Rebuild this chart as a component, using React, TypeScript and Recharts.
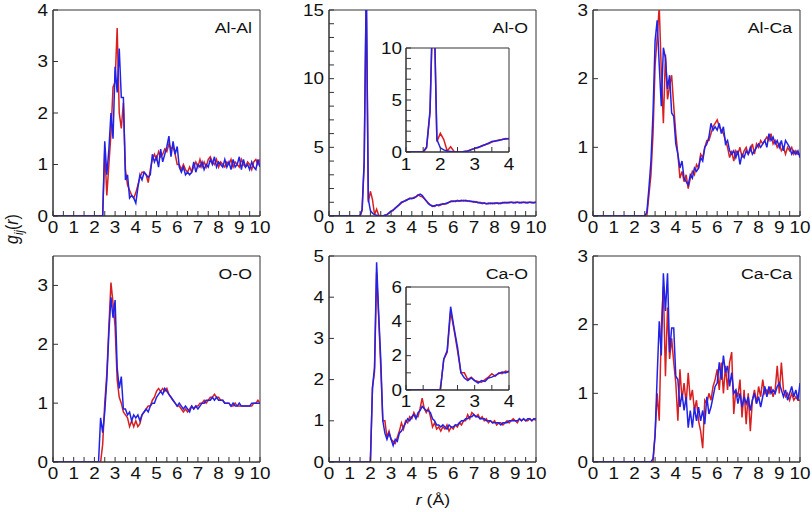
import React from 'react';
import { LineChart, Line, XAxis, YAxis, ReferenceArea } from 'recharts';

// ---------- data (g_ij(r) on r = 0.0, 0.1, ... 10.0 Å) ----------
const rValues = Array.from({ length: 101 }, (_, i) => i / 10);

const alAlRed = [
  0, 0, 0, 0, 0, 0, 0, 0, 0, 0,
  0, 0, 0, 0, 0, 0, 0, 0, 0, 0,
  0, 0, 0, 0, 0, 1.3, 0.4, 1.0, 1.6, 2.5,
  2.6, 3.65, 2.0, 1.7, 2.2, 0.9, 0.6, 0.5, 0.4, 0.35,
  0.45, 0.6, 0.75, 0.85, 0.85, 0.8, 0.65, 0.9, 1.1, 1.2,
  1.1, 1.25, 1.15, 1.2, 1.3, 1.25, 1.4, 1.3, 1.35, 1.2,
  1.0, 1.0, 0.9, 1.0, 0.9, 0.85, 0.95, 0.85, 0.95, 1.05,
  0.95, 1.1, 0.95, 1.05, 0.95, 1.1, 1.15, 1.05, 1.0, 1.1,
  0.95, 1.05, 1.0, 0.95, 1.05, 1.0, 1.1, 0.95, 1.05, 1.0,
  0.95, 1.1, 1.0, 0.95, 1.05, 1.0, 0.9, 1.05, 1.1, 1.0,
  1.1,
];
const alAlBlue = [
  0, 0, 0, 0, 0, 0, 0, 0, 0, 0,
  0, 0, 0, 0, 0, 0, 0, 0, 0, 0,
  0, 0, 0, 0, 0, 1.45, 0.8, 1.3, 2.0, 1.5,
  2.9, 2.4, 3.25, 2.3, 2.3, 0.7, 0.8, 0.35, 0.4, 0.35,
  0.25, 0.55, 0.8, 0.7, 0.85, 0.8, 0.75, 0.8, 1.2, 1.05,
  1.15, 0.95, 1.3, 1.05, 1.2, 1.35, 1.55, 1.15, 1.45, 1.2,
  1.35, 0.95, 0.85, 0.95, 0.8, 0.85, 0.8, 0.85, 1.05, 0.85,
  1.0, 0.95, 1.05, 0.9, 1.0, 0.95, 1.1, 1.0, 1.15, 0.95,
  1.05, 1.0, 0.95, 1.1, 0.95, 1.05, 0.9, 1.1, 0.95, 1.0,
  1.15, 0.9, 1.1, 0.95, 1.0, 0.9, 1.05, 0.95, 0.9, 1.1,
  0.95,
];

const alORed = [
  0, 0, 0, 0, 0, 0, 0, 0, 0, 0,
  0, 0, 0, 0, 0, 0, 0.4, 3.8, 16.5, 1.0,
  1.8, 1.2, 0.1, 0.5, 0.05, 0, 0, 0.05, 0.1, 0.25,
  0.35, 0.4, 0.6, 0.7, 0.8, 0.95, 1.05, 1.15, 1.2, 1.3,
  1.25, 1.35, 1.4, 1.55, 1.45, 1.4, 1.25, 1.1, 0.95, 0.8,
  0.75, 0.7, 0.8, 0.75, 0.8, 0.9, 0.85, 0.9, 1.0, 1.1,
  1.1, 1.05, 1.15, 1.1, 1.1, 1.15, 1.1, 1.1, 1.05, 1.05,
  1.0, 1.05, 0.95, 1.0, 0.9, 0.95, 0.9, 0.95, 0.9, 0.95,
  0.9, 0.95, 0.95, 0.9, 1.0, 0.95, 1.0, 0.95, 1.0, 1.0,
  0.95, 1.0, 1.0, 0.95, 1.0, 0.95, 1.0, 1.0, 0.95, 1.0,
  1.0,
];
const alOBlue = [
  0, 0, 0, 0, 0, 0, 0, 0, 0, 0,
  0, 0, 0, 0, 0, 0, 0.5, 4.0, 17, 1.2,
  0.4, 0.2, 0.1, 0.05, 0, 0, 0, 0.05, 0.1, 0.2,
  0.35, 0.45, 0.55, 0.7, 0.85, 1.0, 1.05, 1.1, 1.2, 1.25,
  1.3, 1.3, 1.4, 1.5, 1.6, 1.5, 1.3, 1.1, 0.9, 0.8,
  0.7, 0.75, 0.8, 0.8, 0.85, 0.85, 0.9, 0.95, 1.0, 1.05,
  1.05, 1.1, 1.1, 1.1, 1.15, 1.1, 1.15, 1.1, 1.1, 1.05,
  1.05, 1.0, 1.0, 0.95, 0.95, 0.95, 0.9, 0.9, 0.95, 0.9,
  0.95, 0.95, 0.9, 0.95, 0.95, 1.0, 0.95, 1.0, 1.0, 0.95,
  1.0, 1.0, 0.95, 1.0, 1.0, 1.0, 0.95, 1.0, 1.0, 0.95,
  1.0,
];

const alCaRed = [
  0, 0, 0, 0, 0, 0, 0, 0, 0, 0,
  0, 0, 0, 0, 0, 0, 0, 0, 0, 0,
  0, 0, 0, 0, 0, 0, 0, 0.3, 0.6, 1.2,
  2.2, 2.6, 3.05, 2.1, 1.35, 2.35, 1.7, 1.9, 2.05, 1.6,
  1.2, 0.9, 0.55, 0.65, 0.5, 0.6, 0.4, 0.55, 0.65, 0.6,
  0.75, 0.7, 0.9, 0.85, 1.0, 1.1, 1.1, 1.2, 1.3, 1.35,
  1.4, 1.3, 1.25, 1.2, 1.1, 1.0, 0.85, 0.95, 0.8, 0.95,
  0.9, 1.0, 0.85, 0.95, 1.0, 0.9, 0.95, 1.05, 0.9, 1.05,
  1.0, 1.1, 1.05, 1.1, 1.15, 1.1, 1.2, 1.05, 1.1, 1.0,
  1.05, 0.95, 1.0, 0.9, 1.0, 0.95, 1.0, 0.9, 0.95, 0.9,
  0.9,
];
const alCaBlue = [
  0, 0, 0, 0, 0, 0, 0, 0, 0, 0,
  0, 0, 0, 0, 0, 0, 0, 0, 0, 0,
  0, 0, 0, 0, 0, 0, 0.05, 0.4, 0.8, 1.5,
  2.55, 2.85, 2.2, 1.6, 2.45, 2.3, 1.85, 2.05, 1.5, 1.45,
  1.05, 0.9, 0.7, 0.8, 0.55, 0.5, 0.45, 0.6, 0.55, 0.7,
  0.65, 0.7, 0.85, 0.8, 1.0, 1.05, 1.15, 1.35, 1.25, 1.3,
  1.25, 1.35, 1.2, 1.3, 1.05, 1.1, 0.95, 0.9, 0.95, 0.85,
  0.95, 0.75, 0.9, 0.85, 0.95, 0.9, 1.0, 0.9, 0.95, 1.0,
  1.05, 1.0, 1.05, 1.1, 1.0, 1.2, 1.1, 1.15, 1.05, 1.1,
  1.0, 1.1, 0.95, 1.1, 1.05, 1.0, 0.9, 0.95, 0.9, 0.95,
  0.85,
];

const ooRed = [
  0, 0, 0, 0, 0, 0, 0, 0, 0, 0,
  0, 0, 0, 0, 0, 0, 0, 0, 0, 0,
  0, 0, 0, 0, 0.3, 1.0, 1.5, 2.3, 3.05, 2.7,
  2.3, 1.4, 1.1, 1.0, 0.85, 0.8, 0.75, 0.6, 0.7, 0.6,
  0.7, 0.6, 0.65, 0.8, 0.85, 0.9, 0.95, 0.95, 1.05, 1.1,
  1.2, 1.25, 1.2, 1.25, 1.2, 1.25, 1.15, 1.1, 1.05, 1.0,
  0.95, 0.95, 0.9, 0.85, 0.9, 0.85, 0.9, 0.95, 0.9, 0.95,
  0.95, 1.0, 1.0, 1.05, 1.0, 1.05, 1.1, 1.1, 1.15, 1.1,
  1.1, 1.05, 1.05, 1.0, 1.0, 1.0, 0.95, 0.95, 1.0, 0.95,
  0.95, 0.95, 0.95, 0.95, 0.95, 0.95, 0.95, 1.0, 1.0, 1.05,
  1.0,
];
const ooBlue = [
  0, 0, 0, 0, 0, 0, 0, 0, 0, 0,
  0, 0, 0, 0, 0, 0, 0, 0, 0, 0,
  0, 0, 0, 0.75, 0.5, 0.85, 1.4, 2.2, 2.8, 2.45,
  2.75, 1.6, 1.25, 1.45, 0.9, 0.9, 0.8, 0.85, 0.7, 0.8,
  0.75, 0.8, 0.7, 0.8, 0.85, 0.9, 0.85, 0.95, 1.0, 1.0,
  1.1, 1.15, 1.2, 1.15, 1.25, 1.2, 1.15, 1.1, 1.05, 1.0,
  0.95, 1.0, 0.95, 0.9, 0.95, 0.9, 0.85, 0.95, 0.9, 0.95,
  0.9, 0.95, 1.0, 1.0, 1.05, 1.05, 1.05, 1.1, 1.05, 1.1,
  1.05, 1.05, 1.05, 1.0, 1.0, 1.0, 0.95, 1.0, 0.95, 0.95,
  1.0, 0.95, 0.95, 0.95, 0.95, 0.95, 1.0, 1.0, 1.0, 1.0,
  1.0,
];

const caORed = [
  0, 0, 0, 0, 0, 0, 0, 0, 0, 0,
  0, 0, 0, 0, 0, 0, 0, 0, 0, 0,
  0, 1.8, 2.2, 4.6, 3.5, 2.3, 1.0, 1.0, 0.6, 0.75,
  0.55, 0.5, 0.45, 0.6, 0.75, 0.95, 0.8, 1.0, 0.95, 1.1,
  1.05, 1.2, 1.1, 1.1, 1.3, 1.55, 1.3, 1.2, 1.3, 1.1,
  0.85, 0.95, 0.8, 0.85, 0.75, 0.85, 0.8, 0.9, 0.75, 0.85,
  0.8, 0.9, 0.85, 0.95, 0.9, 1.0, 1.0, 1.15, 1.05, 1.2,
  1.15, 1.1, 1.15, 1.05, 1.1, 1.0, 1.05, 0.95, 1.0, 0.95,
  1.0, 0.9, 0.95, 0.95, 0.9, 0.95, 1.0, 0.95, 1.0, 1.05,
  1.0, 0.95, 1.05, 1.0, 1.05, 1.0, 1.0, 1.05, 1.0, 1.05,
  1.0,
];
const caOBlue = [
  0, 0, 0, 0, 0, 0, 0, 0, 0, 0,
  0, 0, 0, 0, 0, 0, 0, 0, 0, 0,
  0, 1.8, 2.3, 4.85, 3.6, 2.5, 1.0, 0.7, 0.55, 0.7,
  0.55, 0.4, 0.55, 0.5, 0.7, 0.75, 0.85, 0.95, 1.05, 1.0,
  1.1, 1.15, 1.05, 1.2, 1.25, 1.35, 1.3, 1.25, 1.25, 1.2,
  1.05, 1.0, 0.9, 0.9, 0.85, 0.9, 0.85, 0.8, 0.9, 0.85,
  0.85, 0.9, 0.9, 0.95, 1.0, 1.0, 1.05, 1.05, 1.1, 1.1,
  1.15, 1.1, 1.1, 1.05, 1.05, 1.05, 1.0, 1.0, 1.0, 0.95,
  0.95, 0.95, 0.95, 0.9, 0.95, 0.95, 0.95, 1.0, 1.0, 1.0,
  1.0, 1.0, 1.05, 1.0, 1.05, 1.0, 1.05, 1.05, 1.0, 1.05,
  1.05,
];

const caCaRed = [
  0, 0, 0, 0, 0, 0, 0, 0, 0, 0,
  0, 0, 0, 0, 0, 0, 0, 0, 0, 0,
  0, 0, 0, 0, 0, 0, 0, 0, 0, 0,
  0.4, 1.0, 0.6, 1.95, 2.55, 1.25, 2.25, 1.5, 1.8, 1.45,
  1.15, 0.6, 1.35, 0.9, 1.15, 0.85, 1.3, 0.9, 1.05, 0.75,
  0.9, 0.6, 0.45, 0.2, 0.9, 0.85, 1.0, 0.9, 1.1, 1.2,
  1.35, 1.05, 1.45, 1.0, 1.4, 1.05, 1.45, 1.6, 0.7, 1.05,
  0.95, 1.2, 0.65, 1.05, 0.55, 1.0, 0.45, 0.9, 1.05, 0.85,
  1.1, 0.95, 1.2, 1.0, 1.05, 1.0, 1.1, 0.95, 1.05, 1.4,
  1.0, 1.45, 1.05, 0.95, 1.0, 0.9, 1.0, 0.9, 0.95, 0.9,
  0.9,
];
const caCaBlue = [
  0, 0, 0, 0, 0, 0, 0, 0, 0, 0,
  0, 0, 0, 0, 0, 0, 0, 0, 0, 0,
  0, 0, 0, 0, 0, 0, 0, 0, 0, 0.05,
  0.4, 1.25, 2.05, 1.55, 2.75, 2.2, 2.75, 1.6, 1.95, 1.95,
  1.25, 1.2, 0.8, 1.0, 0.75, 0.95, 0.5, 0.75, 0.5, 0.8,
  0.6, 0.8, 0.6, 0.75, 0.55, 0.95, 0.7, 0.8, 0.95, 1.1,
  1.15, 1.45, 1.2, 1.55, 1.3, 1.4, 1.1, 1.3, 1.0, 1.05,
  0.85, 1.0, 0.8, 0.95, 0.85, 0.95, 0.75, 0.9, 1.0, 0.85,
  0.95, 0.8, 0.95, 1.1, 0.95, 1.1, 1.0, 1.05, 1.0, 1.1,
  1.15, 1.05, 0.95, 1.05, 0.9, 1.0, 1.1, 0.95, 1.05, 0.9,
  1.15,
];

const panelNames = ['Al-Al', 'Al-O', 'Al-Ca', 'O-O', 'Ca-O', 'Ca-Ca'];
const mainXTicks = [0, 0.5, 1, 1.5, 2, 2.5, 3, 3.5, 4, 4.5, 5, 5.5, 6, 6.5, 7, 7.5, 8, 8.5, 9, 9.5, 10];
const insetXTicks = [1, 1.5, 2, 2.5, 3, 3.5, 4];
const yTicksAlAl = [0, 1, 2, 3, 4];
const yTicksAlO = [0, 1, 2, 3, 4, 5, 6, 7, 8, 9, 10, 11, 12, 13, 14, 15];
const yLabelsAlO = [0, 5, 10, 15];
const yTicksAlCa = [0, 1, 2, 3];
const yTicksOO = [0, 1, 2, 3];
const yTicksCaO = [0, 1, 2, 3, 4, 5];
const yTicksCaCa = [0, 1, 2, 3];
const yTicksAlOInset = [0, 1, 2, 3, 4, 5, 6, 7, 8, 9, 10];
const yLabelsAlOInset = [0, 5, 10];
const yTicksCaOInset = [0, 1, 2, 3, 4, 5, 6];
const yLabelsCaOInset = [0, 2, 4, 6];

const build = (red: number[], blue: number[]) =>
  rValues.map((r, i) => ({ r, red: red[i], blue: blue[i] }));

// ---------- styles ----------
const RED = '#d82020';
const BLUE = '#2222e6';
const AXIS = '#333333';
const TEXT = '#111111';
const FONT = '"Liberation Sans", Arial, Helvetica, sans-serif';
const SX = 1.18;
const TICK_FS = 16;

const isInt = (v: number) => Math.abs(v - Math.round(v)) < 1e-6;

function XTick(props: any) {
  const { x, y, payload, gap, fs } = props;
  const v = payload.value;
  const axisY = y - gap;
  return (
    <g>
      <line x1={x} x2={x} y1={axisY} y2={axisY - 5} stroke={AXIS} strokeWidth={1} />
      {isInt(v) && (
        <g transform={`translate(${x},${y}) scale(${SX},1)`}>
          <text x={0} y={0} dy="0.71em" textAnchor="middle" fontSize={fs} fill={TEXT} fontFamily={FONT}>
            {v}
          </text>
        </g>
      )}
    </g>
  );
}

function YTick(props: any) {
  const { x, y, payload, gap, fs, labels } = props;
  const v = payload.value;
  const axisX = x + gap;
  const show = labels ? labels.includes(v) : true;
  return (
    <g>
      <line x1={axisX} x2={axisX + 5} y1={y} y2={y} stroke={AXIS} strokeWidth={1} />
      {show && (
        <g transform={`translate(${x},${y}) scale(${SX},1)`}>
          <text x={0} y={0} dy="0.355em" textAnchor="end" fontSize={fs} fill={TEXT} fontFamily={FONT}>
            {v}
          </text>
        </g>
      )}
    </g>
  );
}

type PanelProps = {
  data: any[];
  plotLeft: number;
  plotTop: number;
  plotW: number;
  plotH: number;
  xDomain: [number, number];
  xTicks: number[];
  yDomain: [number, number];
  yTicks: number[];
  yLabels?: number[];
  yAxisW: number;
  padTop: number;
  padRight: number;
  xAxisH: number;
  xGap: number;
  yGap: number;
};

function Panel(p: PanelProps) {
  const width = p.yAxisW + p.plotW + p.padRight;
  const height = p.padTop + p.plotH + p.xAxisH;
  return (
    <div style={{ position: 'absolute', left: p.plotLeft - p.yAxisW, top: p.plotTop - p.padTop }}>
      <LineChart
        width={width}
        height={height}
        data={p.data}
        margin={{ top: p.padTop, right: p.padRight, bottom: 0, left: 0 }}
      >
        <XAxis
          dataKey="r"
          type="number"
          domain={p.xDomain}
          ticks={p.xTicks}
          interval={0}
          allowDataOverflow
          height={p.xAxisH}
          tickSize={0}
          tickMargin={p.xGap}
          tickLine={false}
          axisLine={{ stroke: AXIS, strokeWidth: 1 }}
          tick={(tp: any) => <XTick {...tp} gap={p.xGap} fs={TICK_FS} />}
        />
        <YAxis
          type="number"
          domain={p.yDomain}
          ticks={p.yTicks}
          interval={0}
          allowDataOverflow
          width={p.yAxisW}
          tickSize={0}
          tickMargin={p.yGap}
          tickLine={false}
          axisLine={{ stroke: AXIS, strokeWidth: 1 }}
          tick={(tp: any) => <YTick {...tp} gap={p.yGap} fs={TICK_FS} labels={p.yLabels} />}
        />
        <ReferenceArea
          x1={p.xDomain[0]}
          x2={p.xDomain[1]}
          y1={p.yDomain[0]}
          y2={p.yDomain[1]}
          fill="none"
          fillOpacity={0}
          stroke={AXIS}
          strokeWidth={1}
        />
        <Line type="linear" dataKey="red" stroke={RED} strokeWidth={1.5} dot={false} isAnimationActive={false} />
        <Line type="linear" dataKey="blue" stroke={BLUE} strokeWidth={1.5} dot={false} isAnimationActive={false} />
      </LineChart>
    </div>
  );
}

const COLS = [53, 329, 593];
const ROWS = [10, 256];
const PW = 207;
const PH = 206;

function StretchText(props: { x: number; y: number; anchor: string; fs: number; children: any; rotate?: number }) {
  const rot = props.rotate ? ` rotate(${props.rotate})` : '';
  return (
    <g transform={`translate(${props.x},${props.y}) scale(${SX},1)${rot}`}>
      <text x={0} y={0} textAnchor={props.anchor as any} fontSize={props.fs} fill={TEXT} fontFamily={FONT}>
        {props.children}
      </text>
    </g>
  );
}

export default function App() {
  const datasets = [
    build(alAlRed, alAlBlue),
    build(alORed, alOBlue),
    build(alCaRed, alCaBlue),
    build(ooRed, ooBlue),
    build(caORed, caOBlue),
    build(caCaRed, caCaBlue),
  ];
  const yConf: { domain: [number, number]; ticks: number[]; labels?: number[] }[] = [
    { domain: [0, 4], ticks: yTicksAlAl },
    { domain: [0, 15], ticks: yTicksAlO, labels: yLabelsAlO },
    { domain: [0, 3], ticks: yTicksAlCa },
    { domain: [0, 3.5], ticks: yTicksOO },
    { domain: [0, 5], ticks: yTicksCaO },
    { domain: [0, 3], ticks: yTicksCaCa },
  ];

  return (
    <div style={{ position: 'absolute', left: 0, top: 0, width: 812, height: 512, background: '#fff', overflow: 'hidden' }}>
      {datasets.map((d, i) => (
        <Panel
          key={panelNames[i]}
          data={d}
          plotLeft={COLS[i % 3]}
          plotTop={ROWS[Math.floor(i / 3)]}
          plotW={PW}
          plotH={PH}
          xDomain={[0, 10]}
          xTicks={mainXTicks}
          yDomain={yConf[i].domain}
          yTicks={yConf[i].ticks}
          yLabels={yConf[i].labels}
          yAxisW={45}
          padTop={10}
          padRight={16}
          xAxisH={30}
          xGap={6}
          yGap={5}
        />
      ))}
      {/* Al-O inset */}
      <Panel
        data={datasets[1]}
        plotLeft={406}
        plotTop={48}
        plotW={103}
        plotH={104}
        xDomain={[1, 4]}
        xTicks={insetXTicks}
        yDomain={[0, 10]}
        yTicks={yTicksAlOInset}
        yLabels={yLabelsAlOInset}
        yAxisW={30}
        padTop={9}
        padRight={10}
        xAxisH={26}
        xGap={7}
        yGap={4}
      />
      {/* Ca-O inset */}
      <Panel
        data={datasets[4]}
        plotLeft={406}
        plotTop={287}
        plotW={103}
        plotH={103}
        xDomain={[1, 4]}
        xTicks={insetXTicks}
        yDomain={[0, 6]}
        yTicks={yTicksCaOInset}
        yLabels={yLabelsCaOInset}
        yAxisW={30}
        padTop={9}
        padRight={10}
        xAxisH={26}
        xGap={6}
        yGap={4}
      />
      <svg width={812} height={512} style={{ position: 'absolute', left: 0, top: 0, pointerEvents: 'none' }}>
        {panelNames.map((name, i) => (
          <StretchText
            key={name}
            x={COLS[i % 3] + PW - 8}
            y={ROWS[Math.floor(i / 3)] + 23}
            anchor="end"
            fs={15}
          >
            {name}
          </StretchText>
        ))}
        <StretchText x={433} y={505} anchor="middle" fs={15}>
          <tspan fontStyle="italic">r</tspan> (Å)
        </StretchText>
        <StretchText x={18} y={229} anchor="middle" fs={16} rotate={-90}>
          <tspan fontStyle="italic">g</tspan>
          <tspan fontStyle="italic" fontSize={11} dy={4}>ij</tspan>
          <tspan dy={-4}>(</tspan>
          <tspan fontStyle="italic">r</tspan>
          <tspan>)</tspan>
        </StretchText>
      </svg>
    </div>
  );
}
